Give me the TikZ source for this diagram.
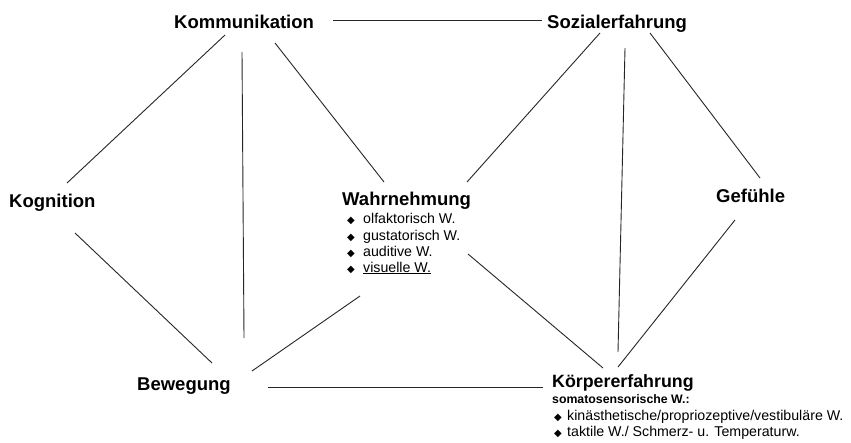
\documentclass[tikz,border=0pt]{standalone}
\usepackage{fontspec}
\setmainfont{Liberation Sans}
\newfontfamily\symfont{DejaVu Sans}
\newcommand{\bul}{{\symfont\fontsize{10}{10}\selectfont ◆}}
\begin{document}
\begin{tikzpicture}[x=1pt,y=-1pt,
  head/.style={anchor=base west,inner sep=0pt,font=\fontsize{18.5}{20}\selectfont\bfseries},
  item/.style={anchor=base west,inner sep=0pt,font=\fontsize{14.2}{16}\selectfont},
  sub/.style={anchor=base west,inner sep=0pt,font=\fontsize{12.3}{14}\selectfont\bfseries},
  link/.style={line width=0.9pt,draw=black!85}]
\useasboundingbox (0,0) rectangle (851,442);
\fill[white] (0,0) rectangle (851,442);
% headings
\node[head] (komm)  at (174,28)  {Kommunikation};
\node[head] (soz)   at (547,28)  {Sozialerfahrung};
\node[head] (kog)   at (9,207)   {Kognition};
\node[head] (wahr)  at (342,205) {Wahrnehmung};
\node[head] (gef)   at (716,202) {Gefühle};
\node[head] (bew)   at (137,390) {Bewegung};
\node[head,font=\fontsize{17.8}{20}\selectfont\bfseries] (koerp) at (552,387) {Körpererfahrung};
% Wahrnehmung list
\node[item] (w1) at (347,223) {\makebox[16pt][l]{\bul}olfaktorisch W.};
\node[item] (w2) at (347,240) {\makebox[16pt][l]{\bul}gustatorisch W.};
\node[item] (w3) at (347,256) {\makebox[16pt][l]{\bul}auditive W.};
\node[item] (w4) at (347,272) {\makebox[16pt][l]{\bul}\underline{visuelle W.}};
% Koerpererfahrung list
\node[sub]  (ks) at (552,403) {somatosensorische W.:};
\node[item] (k1) at (554,420) {\makebox[13pt][l]{\bul}kinästhetische/propriozeptive/vestibuläre W.};
\node[item] (k2) at (554,436) {\makebox[13pt][l]{\bul}taktile W./ Schmerz- u. Temperaturw.};
% connectors
\draw[link] ([shift={(159,-8)}]komm.base west) -- ([shift={(-5,-8)}]soz.base west);
\draw[link] ([shift={(51,7)}]komm.base west) -- ([shift={(58,-24)}]kog.base west);
\draw[link] ([shift={(68,24)}]komm.base west) -- ([shift={(107,-52)}]bew.base west);
\draw[link] ([shift={(101,15)}]komm.base west) -- ([shift={(42,-23)}]wahr.base west);
\draw[link] ([shift={(53,5)}]soz.base west) -- ([shift={(125,-23)}]wahr.base west);
\draw[link] ([shift={(78,20)}]soz.base west) -- ([shift={(66,-35)}]koerp.base west);
\draw[link] ([shift={(103,5)}]soz.base west) -- ([shift={(44,-24)}]gef.base west);
\draw[link] ([shift={(66,26)}]kog.base west) -- ([shift={(75,-27)}]bew.base west);
\draw[link] ([shift={(18,91)}]wahr.base west) -- ([shift={(115,-19)}]bew.base west);
\draw[link] ([shift={(126,49)}]wahr.base west) -- ([shift={(51,-19)}]koerp.base west);
\draw[link] ([shift={(19,18)}]gef.base west) -- ([shift={(66,-20)}]koerp.base west);
\draw[link] ([shift={(131,-3)}]bew.base west) -- ([shift={(-9,0)}]koerp.base west);
\end{tikzpicture}
\end{document}
